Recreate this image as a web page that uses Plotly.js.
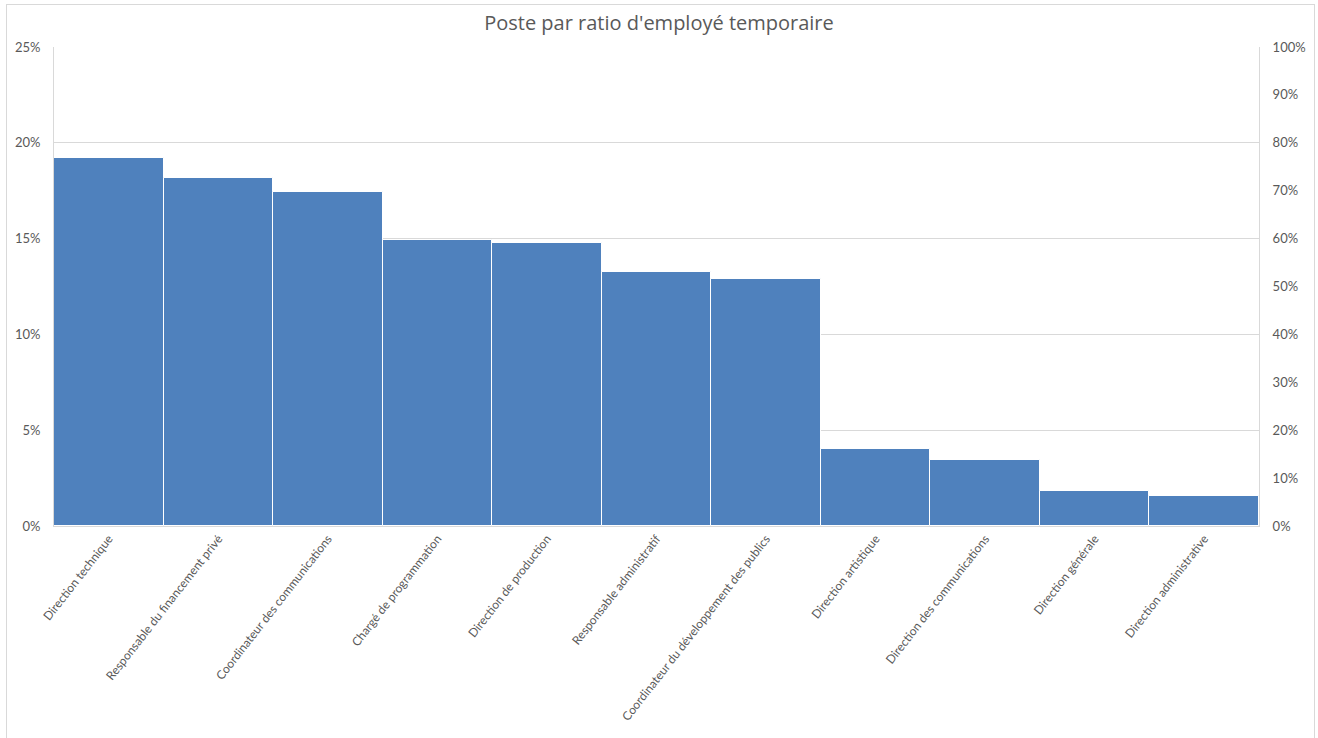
<!DOCTYPE html>
<html>
<head>
<meta charset="utf-8">
<script src="https://cdn.plot.ly/plotly-3.0.1.min.js"></script>
<style>
html,body{margin:0;padding:0;background:#fff;}
#chart{width:1318px;height:738px;}
#frame{position:absolute;left:6px;top:4px;width:1309px;height:740px;border:1px solid #d9d9d9;pointer-events:none;box-sizing:border-box;}
</style>
</head>
<body>
<div id="chart"></div>
<div id="frame"></div>
<script>
const categories = [
  "Direction technique",
  "Responsable du financement privé",
  "Coordinateur des communications",
  "Chargé de programmation",
  "Direction de production",
  "Responsable administratif",
  "Coordinateur du développement des publics",
  "Direction artistique",
  "Direction des communications",
  "Direction générale",
  "Direction administrative"
];
const ratios = [0.192, 0.1816, 0.1743, 0.1493, 0.1477, 0.1326, 0.1289, 0.0402, 0.0344, 0.0183, 0.0157];
const leftTicks = [0, 0.05, 0.10, 0.15, 0.20, 0.25];
const rightTicks = [0, 0.1, 0.2, 0.3, 0.4, 0.5, 0.6, 0.7, 0.8, 0.9, 1.0];

const font = "Lato, 'Open Sans', sans-serif";
const gray = "#595959";

const traces = [
  {
    type: "bar",
    x: categories,
    y: ratios,
    marker: {color: "#4F81BD", line: {color: "#ffffff", width: 1}},
    hoverinfo: "x+y",
    showlegend: false
  },
  {
    type: "scatter",
    mode: "markers",
    x: categories,
    y: categories.map(() => null),
    yaxis: "y2",
    marker: {opacity: 0},
    hoverinfo: "skip",
    showlegend: false
  }
];

const layout = {
  width: 1318,
  height: 738,
  margin: {l: 54, r: 59, t: 47, b: 212},
  paper_bgcolor: "#ffffff",
  plot_bgcolor: "#ffffff",
  bargap: 0,
  title: {
    text: "Poste par ratio d'employé temporaire",
    font: {family: "'Open Sans', sans-serif", size: 20, color: gray},
    x: 0.5, xanchor: "center",
    y: 0.969, yanchor: "middle"
  },
  xaxis: {
    type: "category",
    range: [-0.5, categories.length - 0.5],
    tickangle: -52,
    tickfont: {family: font, size: 12, color: gray},
    showgrid: false,
    showline: true,
    linecolor: "#d9d9d9",
    linewidth: 1,
    ticks: "",
    automargin: false
  },
  yaxis: {
    range: [0, 0.25],
    tickvals: leftTicks,
    ticktext: leftTicks.map(v => Math.round(v * 100) + "%"),
    tickfont: {family: font, size: 13, color: gray},
    showgrid: true,
    gridcolor: "#d9d9d9",
    gridwidth: 1,
    zeroline: false,
    showline: true,
    linecolor: "#d9d9d9",
    ticks: "",
    ticklabelstandoff: 10,
    automargin: false
  },
  yaxis2: {
    overlaying: "y",
    side: "right",
    range: [0, 1],
    tickvals: rightTicks,
    ticktext: rightTicks.map(v => Math.round(v * 100) + "%"),
    tickfont: {family: font, size: 13, color: gray},
    showgrid: false,
    zeroline: false,
    showline: true,
    linecolor: "#d9d9d9",
    ticks: "",
    ticklabelstandoff: 10,
    automargin: false
  }
};

Plotly.newPlot("chart", traces, layout, {displayModeBar: false, responsive: false});
</script>
</body>
</html>
